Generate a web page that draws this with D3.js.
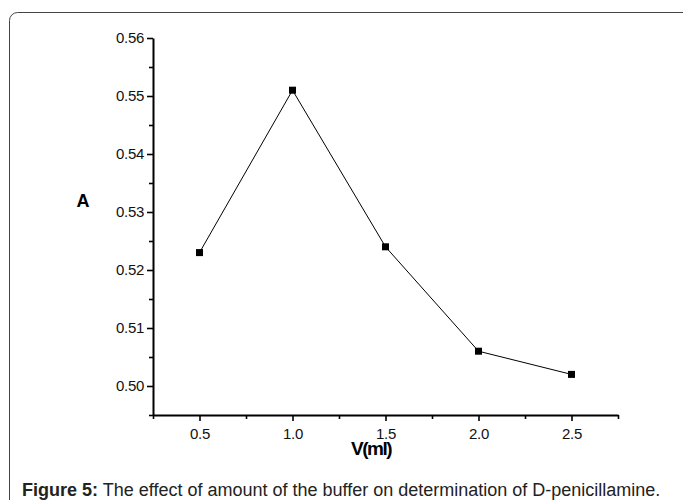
<!DOCTYPE html>
<html>
<head>
<meta charset="utf-8">
<script src="https://cdn.jsdelivr.net/npm/d3@7"></script>
<style>
body { margin: 0; background: #fff; }
svg text { font-family: "Liberation Sans", Arial, sans-serif; }
</style>
</head>
<body>
<div id="viz"></div>
<script>
var width = 683;
var height = 500;

// data
var volumes = [0.5, 1.0, 1.5, 2.0, 2.5];
var absorbance = [0.523, 0.551, 0.524, 0.506, 0.502];
var xTicks = [0.5, 1.0, 1.5, 2.0, 2.5];
var xMinor = [0.25, 0.75, 1.25, 1.75, 2.25, 2.75];
var yTicks = [0.50, 0.51, 0.52, 0.53, 0.54, 0.55, 0.56];
var yMinor = [0.495, 0.505, 0.515, 0.525, 0.535, 0.545, 0.555];

var x = d3.scaleLinear()
	.domain([0.25, 2.75])
	.range([153, 618]);

var y = d3.scaleLinear()
	.domain([0.495, 0.56])
	.range([415, 38]);

var svg = d3.select("#viz").append("svg")
	.attr("width", width)
	.attr("height", height);

// frame round the figure
svg.append("rect")
	.attr("x", 9.5)
	.attr("y", 12.5)
	.attr("width", 690)
	.attr("height", 520)
	.attr("rx", 8)
	.style("fill", "none")
	.style("stroke", "#444")
	.style("stroke-width", 1);

// minor ticks first, so the major axis sits on top
svg.append("g")
	.attr("transform", "translate(0," + y(0.495) + ")")
	.call(d3.axisBottom(x).tickValues(xMinor).tickSize(4).tickFormat(""))
	.call(function(g) { g.select(".domain").remove(); });

svg.append("g")
	.attr("transform", "translate(" + x(0.25) + ",0)")
	.call(d3.axisLeft(y).tickValues(yMinor).tickSize(4).tickFormat(""))
	.call(function(g) { g.select(".domain").remove(); });

var xAxis = svg.append("g")
	.attr("class", "x axis")
	.attr("transform", "translate(0," + y(0.495) + ")")
	.call(d3.axisBottom(x).tickValues(xTicks).tickSize(6).tickSizeOuter(0).tickPadding(7).tickFormat(d3.format(".1f")));

var yAxis = svg.append("g")
	.attr("class", "y axis")
	.attr("transform", "translate(" + x(0.25) + ",0)")
	.call(d3.axisLeft(y).tickValues(yTicks).tickSize(6).tickSizeOuter(0).tickPadding(3).tickFormat(d3.format(".2f")));

svg.selectAll(".tick line").style("stroke", "#000").style("stroke-width", 1.6);
svg.selectAll(".domain").style("stroke", "#000").style("stroke-width", 2);
svg.selectAll(".axis text")
	.style("font-size", "15px")
	.style("letter-spacing", "-0.3px")
	.style("fill", "#111");

// axis titles
svg.append("text")
	.attr("x", 83)
	.attr("y", 207)
	.attr("text-anchor", "middle")
	.style("font-weight", "bold")
	.style("font-size", "18px")
	.text("A");

svg.append("text")
	.attr("x", 371)
	.attr("y", 455)
	.attr("text-anchor", "middle")
	.style("font-weight", "bold")
	.style("font-size", "19px")
	.style("letter-spacing", "-1.5px")
	.text("V(ml)");

// the line and its square markers
var points = volumes.map(function(v, i) { return {v: v, a: absorbance[i]}; });

var line = d3.line()
	.x(function(d) { return x(d.v); })
	.y(function(d) { return y(d.a); });

svg.append("path")
	.datum(points)
	.attr("d", line)
	.style("fill", "none")
	.style("stroke", "#000")
	.style("stroke-width", 1);

svg.selectAll(".pt")
	.data(points)
	.enter().append("rect")
	.attr("class", "pt")
	.attr("x", function(d) { return x(d.v) - 3.5; })
	.attr("y", function(d) { return y(d.a) - 3.5; })
	.attr("width", 7)
	.attr("height", 7)
	.style("fill", "#000");

// caption
var caption = svg.append("text")
	.attr("x", 22)
	.attr("y", 496)
	.style("font-size", "18px")
	.style("fill", "#222");

caption.append("tspan")
	.style("font-weight", "bold")
	.text("Figure 5:");

caption.append("tspan")
	.text(" The effect of amount of the buffer on determination of D-penicillamine.");
</script>
</body>
</html>
